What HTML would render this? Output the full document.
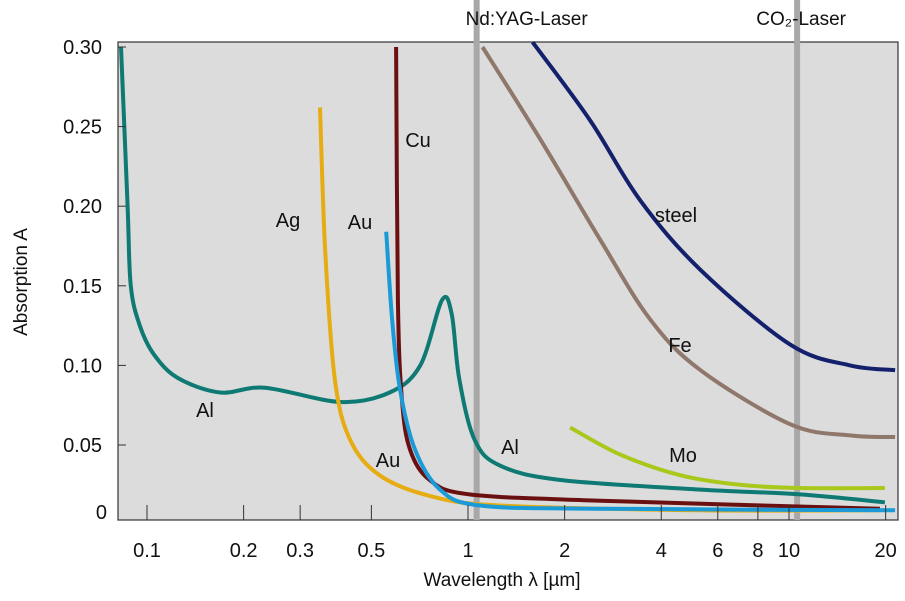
<!DOCTYPE html>
<html><head><meta charset="utf-8"><style>
body{margin:0;background:#fff;}
svg{display:block;font-family:"Liberation Sans",sans-serif;}
</style></head><body>
<svg id="chart" width="905" height="601" viewBox="0 0 905 601">
<rect x="118" y="42" width="780" height="478" fill="#dcdcdc" stroke="#333" stroke-width="1.2"/>
<g id="lasers"></g>
<g id="series"></g>
<g id="axes"></g>
<g id="labels"></g>
</svg>
<script>
const xTicks=[0.1,0.2,0.3,0.5,1,2,4,6,8,10,20];
const xTickLabels=["0.1","0.2","0.3","0.5","1","2","4","6","8","10","20"];
const yTicks=[0,0.05,0.10,0.15,0.20,0.25,0.30];
const yTickLabels=["0","0.05","0.10","0.15","0.20","0.25","0.30"];
const laserWl=[1.064,10.6];
const laserNames=["Nd:YAG-Laser","CO\u2082-Laser"];
const alX=[0.083,0.087,0.089,0.095,0.105,0.125,0.169,0.233,0.40,0.57,0.71,0.83,0.89,0.94,1.05,1.26,1.94,5.3,10.8,19.9];
const alY=[0.30,0.20,0.15,0.125,0.107,0.092,0.083,0.086,0.077,0.083,0.10,0.141,0.132,0.091,0.053,0.037,0.028,0.022,0.019,0.014];
const agX=[0.346,0.359,0.385,0.43,0.53,0.76,1.26,5.3,19.2];
const agY=[0.262,0.172,0.091,0.053,0.031,0.018,0.012,0.009,0.009];
const cuX=[0.597,0.605,0.623,0.66,0.76,1.01,2.58,19.2];
const cuY=[0.30,0.141,0.078,0.047,0.028,0.019,0.015,0.010];
const auX=[0.556,0.58,0.614,0.684,0.818,1.09,2.58,21.4];
const auY=[0.184,0.129,0.085,0.047,0.022,0.012,0.010,0.009];
const feX=[1.11,1.68,2.58,3.69,5.3,10.1,15.5,21.4];
const feY=[0.30,0.242,0.179,0.129,0.097,0.063,0.056,0.055];
const steelX=[1.59,2.40,3.43,5.3,10.1,15.5,21.4];
const steelY=[0.303,0.254,0.204,0.16,0.113,0.10,0.097];
const moX=[2.08,2.98,4.58,7.04,10.8,19.9];
const moY=[0.061,0.044,0.031,0.025,0.023,0.023];

const NS="http://www.w3.org/2000/svg";
function xs(l){return 468+321*Math.log10(l);}
function ys(v){return 524.6-v*1592;}
function mk(tag,attrs,parent){const e=document.createElementNS(NS,tag);for(const k in attrs)e.setAttribute(k,attrs[k]);parent.appendChild(e);return e;}
function smooth(px,py){
  let d="M"+px[0].toFixed(1)+","+py[0].toFixed(1);
  for(let i=0;i<px.length-1;i++){
    const x0=px[Math.max(i-1,0)],y0=py[Math.max(i-1,0)],x1=px[i],y1=py[i],x2=px[i+1],y2=py[i+1],x3=px[Math.min(i+2,px.length-1)],y3=py[Math.min(i+2,px.length-1)];
    const c1x=x1+(x2-x0)/6,c1y=y1+(y2-y0)/6,c2x=x2-(x3-x1)/6,c2y=y2-(y3-y1)/6;
    d+=" C"+c1x.toFixed(1)+","+c1y.toFixed(1)+" "+c2x.toFixed(1)+","+c2y.toFixed(1)+" "+x2.toFixed(1)+","+y2.toFixed(1);
  }
  return d;
}
const lasers=document.getElementById('lasers');
laserWl.forEach((w,i)=>{
  const l=mk('line',{x1:xs(w),x2:xs(w),y1:0,y2:520,stroke:'#a8a8a8','stroke-width':6},lasers);
  
  
  const t=mk('text',{x:xs(w)+(i==0?50:4),y:25,'font-size':19,'text-anchor':'middle',fill:'#111'},lasers);
  t.textContent=laserNames[i];
  
  
});
const series=document.getElementById('series');
const defs=[["al",alX,alY,"#0e7a73"],["ag",agX,agY,"#e6ac12"],["cu",cuX,cuY,"#6b1010"],["au",auX,auY,"#1a9ad6"],["fe",feX,feY,"#8f776b"],["steel",steelX,steelY,"#13206b"],["mo",moX,moY,"#a8c81c"]];
defs.forEach(s=>{
  const p=mk('path',{d:smooth(s[1].map(xs),s[2].map(ys)),fill:'none',stroke:s[3],'stroke-width':4,'stroke-linejoin':'round'},series);
  
  
});
const axes=document.getElementById('axes');
xTicks.forEach((v,i)=>{
  const x=xs(v);
  const tk=mk('line',{x1:x,x2:x,y1:520,y2:505,stroke:'#333','stroke-width':1},axes);
  
  
  const t=mk('text',{x:x,y:557,'font-size':20,'text-anchor':'middle',fill:'#111'},axes);
  t.textContent=xTickLabels[i];
  
  
});
yTicks.forEach((v,i)=>{
  const y=v==0?512:ys(v);
  if(v>0){const tk=mk('line',{x1:118,x2:126,y1:y,y2:y,stroke:'#333','stroke-width':1},axes);
  
  }
  const t=mk('text',{x:v==0?107:102,y:y+7,'font-size':20,'text-anchor':'end',fill:'#111'},axes);
  t.textContent=yTickLabels[i];
  
  
});
const xt=mk('text',{x:502,y:586,'font-size':19,'text-anchor':'middle',fill:'#111'},axes);
xt.textContent="Wavelength  \u03bb [\u00b5m]";


const yt=mk('text',{x:0,y:0,'font-size':19,'text-anchor':'middle',fill:'#111',transform:'translate(27,282) rotate(-90)'},axes);
yt.textContent="Absorption A";


const labNames=["Cu","Ag","Au","steel","Fe","Al","Al","Au","Mo"];
const labPos=[[418,147],[288,227],[360,229],[676,222],[680,352],[205,417],[510,454],[388,467],[683,462]];
const labels=document.getElementById('labels');
labNames.forEach((n,i)=>{
  const t=mk('text',{x:labPos[i][0],y:labPos[i][1],'font-size':20,'text-anchor':'middle',fill:'#111'},labels);
  t.textContent=n;
  
  
});
</script>
</body></html>
